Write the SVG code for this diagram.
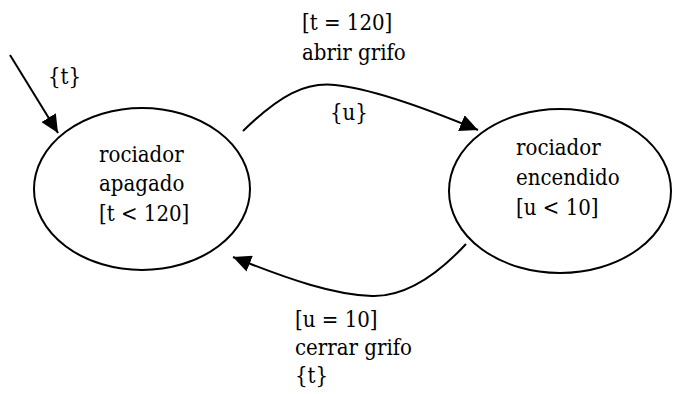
<svg xmlns="http://www.w3.org/2000/svg" width="675" height="394" viewBox="0 0 675 394">
  <defs>
    <style>
      .state { fill: #fff; stroke: #000; stroke-width: 2; }
      .edge { fill: none; stroke: #000; stroke-width: 2; }
      .lbl { font-family: 'DejaVu Serif Condensed', 'DejaVu Serif', serif; font-stretch: condensed; font-size: 22px; fill: #000; }
    </style>
    <marker id="arrow" markerUnits="userSpaceOnUse" markerWidth="19" markerHeight="17" refX="18" refY="8.5" orient="auto" viewBox="0 0 19 17">
      <path d="M0,0 L18,8.5 L0,17 z" fill="#000"/>
    </marker>
  </defs>

  <rect width="675" height="394" fill="#fff"/>

  <!-- states -->
  <g id="apagado">
    <ellipse class="state" cx="142" cy="189" rx="108" ry="81"/>
    <text class="lbl" x="99" y="162">rociador</text>
    <text class="lbl" x="99" y="191">apagado</text>
    <text class="lbl" x="99" y="221">[t &lt; 120]</text>
  </g>

  <g id="encendido">
    <ellipse class="state" cx="560" cy="191" rx="111" ry="82"/>
    <text class="lbl" x="516" y="155">rociador</text>
    <text class="lbl" x="516" y="185">encendido</text>
    <text class="lbl" x="516" y="215">[u &lt; 10]</text>
  </g>

  <!-- transitions -->
  <g id="connectors">
    <path class="edge" d="M10,55 L58,133" marker-end="url(#arrow)"/>
    <path class="edge" d="M243,131 C280,95 305,82 335,85 C375,89 430,110 478,130" marker-end="url(#arrow)"/>
    <path class="edge" d="M466,244 C440,272 408,297 372,296 C335,295 290,280 233,257" marker-end="url(#arrow)"/>
  </g>

  <!-- transition labels -->
  <g id="labels">
    <text class="lbl" x="48" y="84">{t}</text>
    <text class="lbl" x="302" y="30">[t = 120]</text>
    <text class="lbl" x="302" y="60">abrir grifo</text>
    <text class="lbl" x="330" y="120">{u}</text>
    <text class="lbl" x="295" y="327">[u = 10]</text>
    <text class="lbl" x="295" y="355">cerrar grifo</text>
    <text class="lbl" x="295" y="383">{t}</text>
  </g>
</svg>
